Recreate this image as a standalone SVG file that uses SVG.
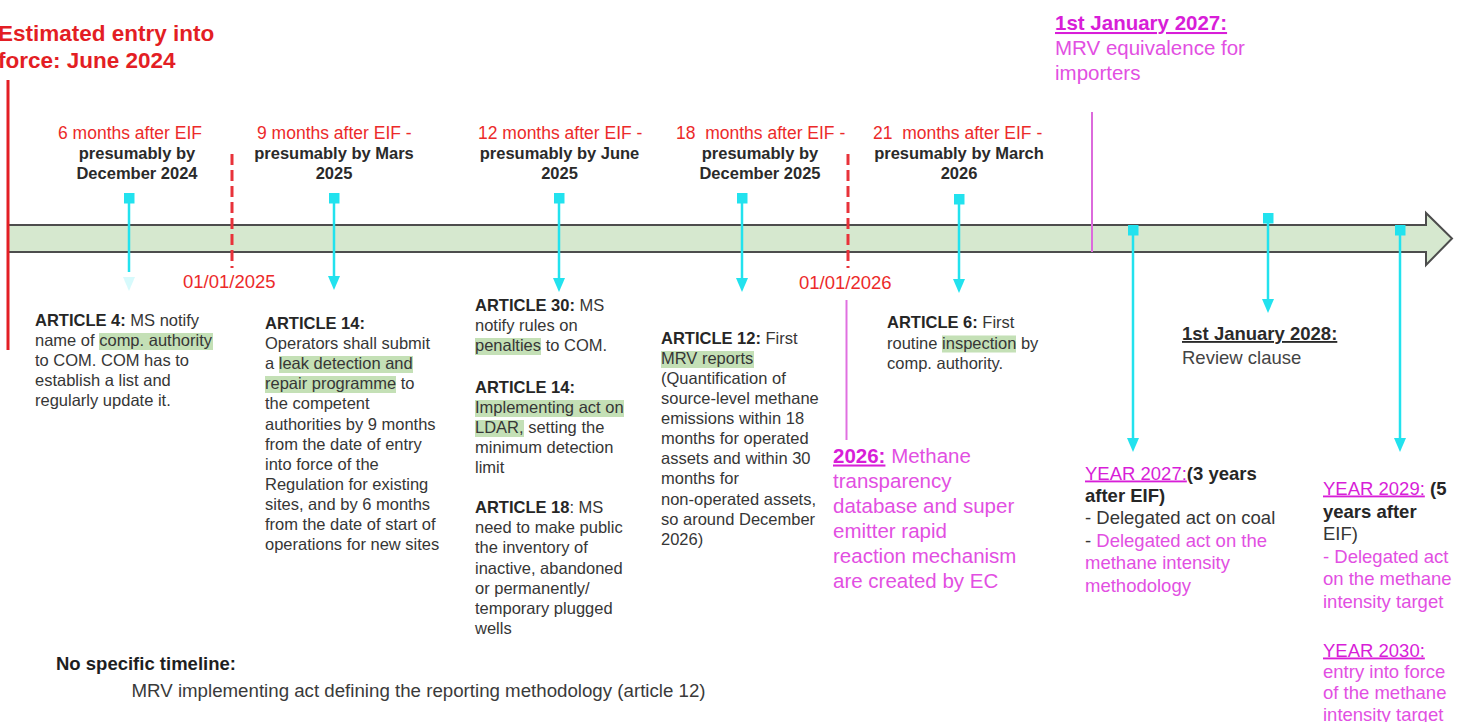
<svg xmlns="http://www.w3.org/2000/svg" width="1466" height="722" viewBox="0 0 1466 722">
<defs>
<style>
text{font-family:"Liberation Sans",Arial,sans-serif;}
.b{font-size:16.5px;fill:#363636}
.bd{font-weight:bold;fill:#262626}
.hr{font-size:17.5px;fill:#ec2a2a}
.hb{font-size:16.5px;font-weight:bold;fill:#2a2a2a;text-anchor:middle}
.hl{fill:#c4e0b6}
.cy{stroke:#22e2ee;stroke-width:2.5;fill:none}
.pk{fill:#e24fe2}
.pkh{fill:#d81ed8;text-decoration:underline}
.date{font-size:18.5px;fill:#ec2a2a}
.rd{stroke:#e8323a;stroke-width:3;stroke-dasharray:11 5;fill:none}
.r{font-size:18.5px;fill:#363636}
.p20{font-size:20.5px}
</style>
<marker id="ah" markerUnits="userSpaceOnUse" markerWidth="14" markerHeight="12" refX="6" refY="6" orient="auto"><path d="M0,0 L14,6 L0,12 Z" fill="#22e2ee"/></marker>
<marker id="sq" markerUnits="userSpaceOnUse" markerWidth="11" markerHeight="11" refX="5.5" refY="5.5" orient="auto"><rect width="11" height="11" fill="#22e2ee"/></marker>
</defs>
<rect width="1466" height="722" fill="#ffffff"/>

<g id="timeline">
<path d="M8,225 H1426 V213 L1452,238.5 L1426,265 V252 H8 Z" fill="#d6e8cf" stroke="#4d4d4d" stroke-width="2"/>
</g>

<g id="title">
<text x="-2" y="41" style="font-size:22.5px;font-weight:bold;fill:#e31e24">Estimated entry into</text>
<text x="-2" y="68" style="font-size:22.5px;font-weight:bold;fill:#e31e24">force: June 2024</text>
</g>

<g id="markers">
<line x1="8" y1="80" x2="8" y2="350" stroke="#e31e24" stroke-width="3"/>
<line class="rd" x1="232" y1="154" x2="232" y2="268"/>
<line class="rd" x1="848" y1="154" x2="848" y2="268"/>
<text class="date" x="183" y="288">01/01/2025</text>
<text class="date" x="799" y="288.5">01/01/2026</text>
<line x1="1092" y1="112" x2="1092" y2="252" stroke="#dc6adc" stroke-width="2"/>
<line x1="846.5" y1="300" x2="846.5" y2="440" stroke="#e070e0" stroke-width="2"/>
</g>

<g id="connectors">
<path class="cy" d="M129,198 V272" marker-start="url(#sq)"/>
<path d="M123,277 L135,277 L129,291 Z" fill="#22e2ee" opacity="0.18"/>
<path class="cy" d="M334,198 V282" marker-start="url(#sq)" marker-end="url(#ah)"/>
<path class="cy" d="M559,198 V284" marker-start="url(#sq)" marker-end="url(#ah)"/>
<path class="cy" d="M742,198 V284" marker-start="url(#sq)" marker-end="url(#ah)"/>
<path class="cy" d="M959,199 V285" marker-start="url(#sq)" marker-end="url(#ah)"/>
<path class="cy" d="M1133,230 V444" marker-start="url(#sq)" marker-end="url(#ah)"/>
<path class="cy" d="M1268,218 V305" marker-start="url(#sq)" marker-end="url(#ah)"/>
<path class="cy" d="M1400,230 V444" marker-start="url(#sq)" marker-end="url(#ah)"/>
</g>

<g id="h1">
<text class="hr" x="58" y="138.5">6 months after EIF</text>
<text class="hb" x="137" y="159">presumably by</text>
<text class="hb" x="137" y="179">December 2024</text>
</g>
<g id="h2">
<text class="hr" x="257" y="138.5">9 months after EIF -</text>
<text class="hb" x="334" y="159">presumably by Mars</text>
<text class="hb" x="334" y="179">2025</text>
</g>
<g id="h3">
<text class="hr" x="478" y="138.5">12 months after EIF -</text>
<text class="hb" x="559.5" y="159">presumably by June</text>
<text class="hb" x="559.5" y="179">2025</text>
</g>
<g id="h4">
<text class="hr" x="676" y="138.5">18&#160; months after EIF -</text>
<text class="hb" x="760" y="159">presumably by</text>
<text class="hb" x="760" y="179">December 2025</text>
</g>
<g id="h5">
<text class="hr" x="873" y="138.5">21&#160; months after EIF -</text>
<text class="hb" x="959" y="159">presumably by March</text>
<text class="hb" x="959" y="179">2026</text>
</g>

<g id="art4">
<rect class="hl" x="99" y="333" width="114" height="17"/>
<text class="b" x="35" y="326"><tspan class="bd">ARTICLE 4:</tspan> MS notify<tspan x="35" dy="20">name of comp. authority</tspan><tspan x="35" dy="20">to COM. COM has to</tspan><tspan x="35" dy="20">establish a list and</tspan><tspan x="35" dy="20">regularly update it.</tspan></text>
</g>

<g id="art14">
<rect class="hl" x="279" y="356" width="134" height="17"/>
<rect class="hl" x="265" y="376" width="131" height="17"/>
<text class="b" x="265" y="329"><tspan class="bd">ARTICLE 14:</tspan><tspan x="265" dy="20.1">Operators shall submit</tspan><tspan x="265" dy="20.1">a leak detection and</tspan><tspan x="265" dy="20.1">repair programme to</tspan><tspan x="265" dy="20.1">the competent</tspan><tspan x="265" dy="20.1">authorities by 9 months</tspan><tspan x="265" dy="20.1">from the date of entry</tspan><tspan x="265" dy="20.1">into force of the</tspan><tspan x="265" dy="20.1">Regulation for existing</tspan><tspan x="265" dy="20.1">sites, and by 6 months</tspan><tspan x="265" dy="20.1">from the date of start of</tspan><tspan x="265" dy="20.1">operations for new sites</tspan></text>
</g>

<g id="art30">
<rect class="hl" x="475" y="338" width="66" height="17"/>
<rect class="hl" x="475" y="400" width="149" height="17"/>
<rect class="hl" x="475" y="420" width="49" height="17"/>
<text class="b" x="475" y="311"><tspan class="bd">ARTICLE 30:</tspan> MS<tspan x="475" dy="20.1">notify rules on</tspan><tspan x="475" dy="20.1">penalties to COM.</tspan></text>
<text class="b" x="475" y="393"><tspan class="bd">ARTICLE 14:</tspan><tspan x="475" dy="20">Implementing act on</tspan><tspan x="475" dy="20">LDAR, setting the</tspan><tspan x="475" dy="20">minimum detection</tspan><tspan x="475" dy="20">limit</tspan></text>
<text class="b" x="475" y="513"><tspan class="bd">ARTICLE 18</tspan>: MS<tspan x="475" dy="20.2">need to make public</tspan><tspan x="475" dy="20.2">the inventory of</tspan><tspan x="475" dy="20.2">inactive, abandoned</tspan><tspan x="475" dy="20.2">or permanently/</tspan><tspan x="475" dy="20.2">temporary plugged</tspan><tspan x="475" dy="20.2">wells</tspan></text>
</g>

<g id="art12">
<rect class="hl" x="661" y="351" width="93" height="17"/>
<text class="b" x="661" y="344"><tspan class="bd">ARTICLE 12:</tspan> First<tspan x="661" dy="20.07">MRV reports</tspan><tspan x="661" dy="20.07">(Quantification of</tspan><tspan x="661" dy="20.07">source-level methane</tspan><tspan x="661" dy="20.07">emissions within 18</tspan><tspan x="661" dy="20.07">months for operated</tspan><tspan x="661" dy="20.07">assets and within 30</tspan><tspan x="661" dy="20.07">months for</tspan><tspan x="661" dy="20.07">non-operated assets,</tspan><tspan x="661" dy="20.07">so around December</tspan><tspan x="661" dy="20.07">2026)</tspan></text>
</g>

<g id="art6">
<rect class="hl" x="942" y="335.5" width="74" height="17"/>
<text class="b" x="887" y="328"><tspan class="bd">ARTICLE 6:</tspan> First<tspan x="887" dy="20.5">routine inspection by</tspan><tspan x="887" dy="20.5">comp. authority.</tspan></text>
</g>

<g id="y2026">
<text class="p20" x="833" y="462.5"><tspan class="pkh" font-weight="bold">2026:</tspan><tspan class="pk"> Methane</tspan><tspan class="pk" x="833" dy="25">transparency</tspan><tspan class="pk" x="833" dy="25">database and super</tspan><tspan class="pk" x="833" dy="25">emitter rapid</tspan><tspan class="pk" x="833" dy="25">reaction mechanism</tspan><tspan class="pk" x="833" dy="25">are created by EC</tspan></text>
</g>

<g id="y2027jan">
<text class="p20" x="1055" y="30"><tspan class="pkh" font-weight="bold">1st January 2027:</tspan><tspan class="pk" x="1055" dy="24.5">MRV equivalence for</tspan><tspan class="pk" x="1055" dy="25">importers</tspan></text>
</g>

<g id="y2028">
<text class="r" x="1182" y="340"><tspan font-weight="bold" text-decoration="underline" fill="#2a2a2a">1st January 2028:</tspan><tspan x="1182" dy="23.5" fill="#444">Review clause</tspan></text>
</g>

<g id="y2027">
<text class="r" x="1085" y="479.5"><tspan class="pkh">YEAR 2027:</tspan><tspan class="bd">(3 years</tspan><tspan class="bd" x="1085" dy="22.4">after EIF)</tspan><tspan x="1085" dy="22.4">- Delegated act on coal</tspan><tspan x="1085" dy="22.4">- </tspan><tspan class="pk">Delegated act on the</tspan><tspan class="pk" x="1085" dy="22.4">methane intensity</tspan><tspan class="pk" x="1085" dy="22.4">methodology</tspan></text>
</g>

<g id="y2029">
<text class="r" x="1323" y="494.5"><tspan class="pkh">YEAR 2029:</tspan><tspan class="bd"> (5</tspan><tspan class="bd" x="1323" dy="23">years after</tspan><tspan x="1323" dy="22">EIF)</tspan><tspan class="pk" x="1323" dy="23">- Delegated act</tspan><tspan class="pk" x="1323" dy="22">on the methane</tspan><tspan class="pk" x="1323" dy="23">intensity target</tspan></text>
</g>

<g id="y2030">
<text class="r" x="1323" y="656.5"><tspan class="pkh">YEAR 2030:</tspan><tspan class="pk" x="1323" dy="21">entry into force</tspan><tspan class="pk" x="1323" dy="21.5">of the methane</tspan><tspan class="pk" x="1323" dy="21.5">intensity target</tspan></text>
</g>

<g id="nospecific">
<text x="56" y="669.5" style="font-size:18.5px;font-weight:bold;fill:#1e1e1e">No specific timeline:</text>
<text x="131.5" y="696.5" style="font-size:18.7px;fill:#3a3a3a">MRV implementing act defining the reporting methodology (article 12)</text>
</g>
</svg>
